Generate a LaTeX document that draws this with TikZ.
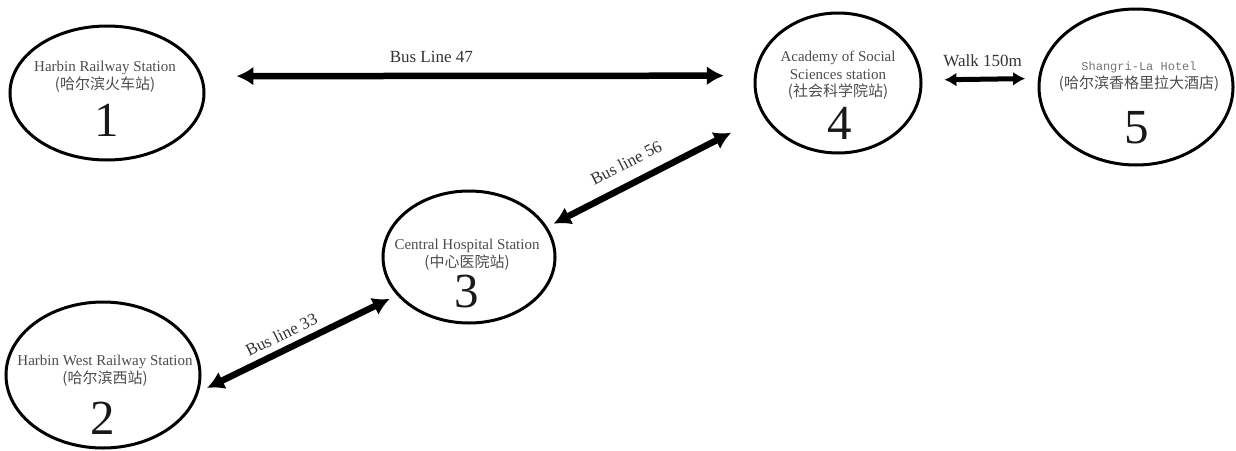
\documentclass[tikz,border=0pt]{standalone}
\usepackage{fontspec}
\setmainfont{Liberation Serif}
\setmonofont{Liberation Mono}
\newfontfamily\cjk{Noto Sans CJK SC}
\usetikzlibrary{arrows.meta,shapes.geometric}
\tikzset{
	stop/.style={ellipse, draw=black, line width=3pt, inner sep=0pt},
	stname/.style={align=center, inner sep=0pt, text=black!70, font=\fontsize{15}{17.5}\selectfont},
	stnum/.style={inner sep=0pt, text=black!90, font=\fontsize{49}{49}\selectfont},
	bus/.style={line width=6.5pt, {Latex[length=17pt,width=19pt]}-{Latex[length=17pt,width=19pt]}},
	walk/.style={line width=5pt, {Latex[length=12pt,width=14pt]}-{Latex[length=12pt,width=14pt]}},
	lbl/.style={inner sep=0pt, text=black!80, font=\fontsize{17}{17}\selectfont}
}

\begin{document}
\begin{tikzpicture}[x=1pt, y=-1pt]
		%%%%% FRAME %%%%%
		\useasboundingbox (0, 0) rectangle (1236, 450);
		
		%%%%% STATIONS %%%%%
		\node[stop, minimum width=194pt, minimum height=134pt] (st1) at (107, 93) {};
		\node[stname] (n1) at (105, 77) {Harbin Railway Station\\{\cjk (哈尔滨火车站)}};
		\node[stnum] (d1) at (107, 120) {1};
		
		\node[stop, minimum width=194pt, minimum height=146pt] (st2) at (103, 375) {};
		\node[stname] (n2) at (105, 371) {Harbin West Railway Station\\{\cjk (哈尔滨西站)}};
		\node[stnum] (d2) at (103, 418) {2};
		
		\node[stop, minimum width=172pt, minimum height=132pt] (st3) at (469, 257) {};
		\node[stname] (n3) at (467, 255) {Central Hospital Station\\{\cjk (中心医院站)}};
		\node[stnum] (d3) at (467, 292) {3};
		
		\node[stop, minimum width=166pt, minimum height=140pt] (st4) at (838, 83) {};
		\node[stname] (n4) at (838, 75.5) {Academy of Social\\Sciences station\\{\cjk (社会科学院站)}};
		\node[stnum] (d4) at (840, 123) {4};
		
		\node[stop, minimum width=194pt, minimum height=156pt] (st5) at (1136, 87) {};
		\node[stname] (n5) at (1139, 76.5) {{\ttfamily\fontsize{12}{12}\selectfont\color{black!55}Shangri-La Hotel}\\{\cjk (哈尔滨香格里拉大酒店)}};
		\node[stnum] (d5) at (1137, 128) {5};
		
		%%%%% LINES %%%%%
		\draw[bus, shorten <=34pt, shorten >=30pt] (st1.10) -- (st4.175)
			node[lbl, pos=.415, above=10pt] (l47) {Bus Line 47};
		\draw[walk, shorten <=22pt, shorten >=13pt] (st4.2) -- (st5.175)
			node[lbl, pos=.52, above=10pt] (lw) {Walk 150m};
		\draw[bus, shorten <=7pt, shorten >=36pt] (st3.21) -- (st4.204)
			node[lbl, pos=.41, sloped, above=12pt] (l56) {Bus line 56};
		\draw[bus, shorten <=9pt, shorten >=8pt] (st2.-10) -- (st3.208)
			node[lbl, pos=.45, sloped, above=6pt] (l33) {Bus line 33};
		
\end{tikzpicture}
\end{document}
